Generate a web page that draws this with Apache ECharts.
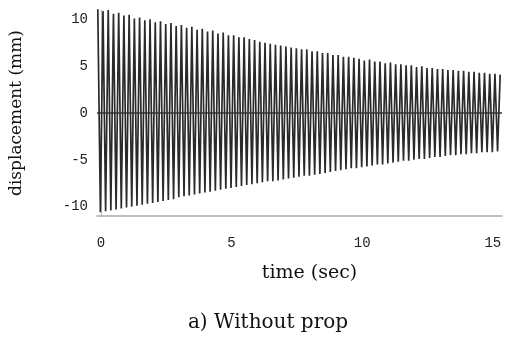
<!DOCTYPE html>
<html>
<head>
<meta charset="utf-8">
<script src="https://cdn.jsdelivr.net/npm/echarts@6/dist/echarts.min.js"></script>
<style>
  html, body { margin: 0; padding: 0; background: #fff; }
  #chart { width: 508px; height: 338px; }
</style>
</head>
<body>
<div id="chart"></div>
<script>
// Peak displacements (mm), one per cycle
const upPeaks = [
  11.2, 10.9, 11.0, 10.6, 10.7, 10.4, 10.5, 10.1, 10.2, 9.9,
  10.0, 9.7, 9.8, 9.5, 9.6, 9.3, 9.4, 9.1, 9.2, 8.9,
  9.0, 8.7, 8.8, 8.5, 8.6, 8.3, 8.3, 8.1, 8.1, 7.9,
  7.8, 7.6, 7.5, 7.4, 7.3, 7.2, 7.1, 7.0, 6.9, 6.8,
  6.8, 6.6, 6.6, 6.4, 6.4, 6.2, 6.2, 6.0, 6.0, 5.9,
  5.8, 5.6, 5.7, 5.5, 5.5, 5.3, 5.4, 5.2, 5.2, 5.1,
  5.1, 4.9, 5.0, 4.8, 4.8, 4.7, 4.7, 4.6, 4.6, 4.5,
  4.5, 4.4, 4.4, 4.3, 4.3, 4.2, 4.2, 4.1
];
const downPeaks = [
  -10.6, -10.5, -10.4, -10.3, -10.2, -10.1, -10.0, -9.9, -9.8, -9.7,
  -9.6, -9.5, -9.4, -9.3, -9.2, -9.0, -8.9, -8.8, -8.7, -8.6,
  -8.5, -8.4, -8.3, -8.2, -8.1, -8.0, -7.9, -7.8, -7.7, -7.6,
  -7.5, -7.4, -7.3, -7.3, -7.2, -7.1, -7.0, -6.9, -6.8, -6.7,
  -6.7, -6.6, -6.5, -6.4, -6.3, -6.2, -6.1, -6.0, -5.9, -5.9,
  -5.8, -5.7, -5.6, -5.5, -5.5, -5.4, -5.3, -5.2, -5.1, -5.1,
  -5.0, -4.9, -4.9, -4.8, -4.7, -4.7, -4.6, -4.5, -4.5, -4.4,
  -4.4, -4.3, -4.3, -4.2, -4.2, -4.2, -4.1
];
const firstPeakTime = -0.12; // sec
const period = 0.2;          // sec, read from the cycle count
const xTicks = [0, 5, 10, 15];
const yTicks = [-10, -5, 0, 5, 10];

// zigzag through the peaks, in time order
const signal = [];
for (let i = 0; i < upPeaks.length; i++) {
  const t = firstPeakTime + i * period;
  signal.push([+t.toFixed(3), upPeaks[i]]);
  if (i < downPeaks.length) {
    signal.push([+(t + period / 2).toFixed(3), downPeaks[i]]);
  }
}

const chart = echarts.init(document.getElementById('chart'), null, { renderer: 'canvas' });

const tickFont = { fontFamily: 'Liberation Mono', fontSize: 14, color: '#222' };

chart.setOption({
  animation: false,
  backgroundColor: '#fff',
  grid: { left: 97, right: 6, top: 10, bottom: 122 },
  xAxis: {
    type: 'value',
    min: -0.15,
    max: 15.35,
    name: 'time (sec)',
    nameLocation: 'middle',
    nameGap: 48,
    nameTextStyle: { fontFamily: 'DejaVu Serif', fontSize: 19, color: '#111', padding: [0, 0, 0, 20] },
    axisLine: { show: true, onZero: false, lineStyle: { color: '#aaa', width: 1.5 } },
    axisTick: { show: false },
    splitLine: { show: false },
    axisLabel: Object.assign({ customValues: xTicks, margin: 20 }, tickFont)
  },
  yAxis: {
    type: 'value',
    min: -11,
    max: 11,
    name: 'displacement (mm)',
    nameLocation: 'middle',
    nameGap: 72,
    nameTextStyle: { fontFamily: 'DejaVu Serif', fontSize: 17, color: '#111' },
    axisLine: { show: true, lineStyle: { color: '#bbb', width: 1 } },
    axisTick: { show: false },
    splitLine: { show: false },
    axisLabel: Object.assign({ customValues: yTicks, margin: 9 }, tickFont)
  },
  title: {
    text: 'a) Without prop',
    left: 263,
    top: 308,
    textAlign: 'center',
    textStyle: { fontFamily: 'DejaVu Serif', fontSize: 20, fontWeight: 'normal', color: '#111' }
  },
  series: [{
    type: 'line',
    data: signal,
    showSymbol: false,
    lineStyle: { color: '#2a2a2a', width: 1.7 },
    markLine: {
      silent: true,
      symbol: 'none',
      label: { show: false },
      lineStyle: { color: '#333', width: 1.5, type: 'solid' },
      data: [{ yAxis: 0 }]
    }
  }]
});
</script>
</body>
</html>
